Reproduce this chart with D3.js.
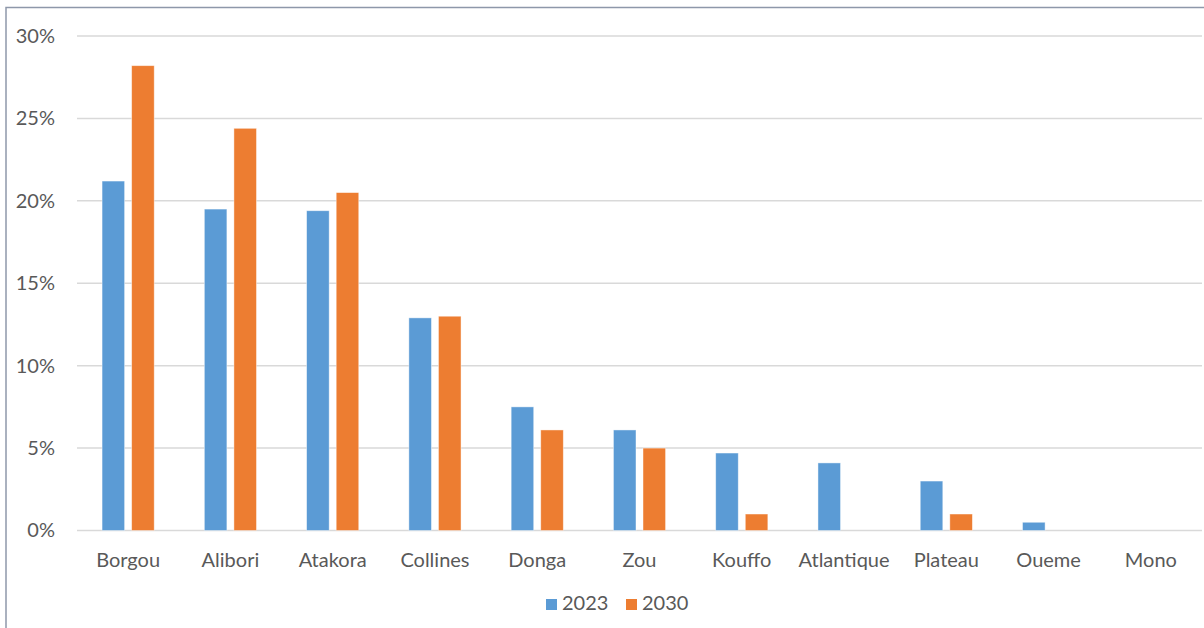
<!DOCTYPE html>
<html>
<head>
<meta charset="utf-8">
<script src="https://cdn.jsdelivr.net/npm/d3@7"></script>
<style>
  html, body { margin: 0; padding: 0; background: #fff; }
  svg { display: block; font-family: Lato, "Open Sans", sans-serif; }
</style>
</head>
<body>
<svg id="chart" width="1204" height="628"></svg>
<script>
// Regional shares, 2023 vs 2030 (in percent)
const regions = ["Borgou", "Alibori", "Atakora", "Collines", "Donga", "Zou", "Kouffo", "Atlantique", "Plateau", "Oueme", "Mono"];
const values2023 = [21.2, 19.5, 19.4, 12.9, 7.5, 6.1, 4.7, 4.1, 3.0, 0.5, 0];
const values2030 = [28.2, 24.4, 20.5, 13.0, 6.1, 5.0, 1.0, 0, 1.0, 0, 0];
const seriesNames = ["2023", "2030"];
const seriesColors = ["#5B9BD5", "#ED7D31"];
const yTicks = [0, 5, 10, 15, 20, 25, 30];

const svg = d3.select("#chart");
const W = 1204, H = 628;
const plot = { left: 77, right: 1202, top: 36, bottom: 530.5 };
const textColor = "#595959";
const fontSize = 20;

// Chart frame (top and left edges)
svg.append("path")
  .attr("d", `M6,${H} L6,7.5 L${W},7.5`)
  .attr("fill", "none")
  .attr("stroke", "#8E98AA")
  .attr("stroke-width", 1.5);

const x = d3.scaleBand()
  .domain(regions)
  .range([plot.left, plot.right])
  .paddingInner(0.49)
  .paddingOuter(0.245);

const xs = d3.scaleBand()
  .domain(seriesNames)
  .range([0, x.bandwidth()])
  .paddingInner(0.237);

const y = d3.scaleLinear()
  .domain([0, 30])
  .range([plot.bottom, plot.top]);

// Gridlines
svg.append("g")
  .selectAll("line")
  .data(yTicks)
  .join("line")
  .attr("x1", plot.left)
  .attr("x2", plot.right)
  .attr("y1", d => y(d))
  .attr("y2", d => y(d))
  .attr("stroke", "#D9D9D9")
  .attr("stroke-width", 1.5);

// Y axis labels
const yAxis = d3.axisLeft(y)
  .tickValues(yTicks)
  .tickFormat(d => d + "%")
  .tickSize(0)
  .tickPadding(0);
const gy = svg.append("g")
  .attr("transform", `translate(55,0)`)
  .call(yAxis);
gy.select(".domain").remove();
gy.selectAll("text")
  .attr("fill", textColor)
  .attr("font-size", fontSize)
  .attr("font-family", "Lato, 'Open Sans', sans-serif");

// Bars
const rows = regions.map((r, i) => ({ region: r, vals: [values2023[i], values2030[i]] }));
const groups = svg.append("g")
  .selectAll("g")
  .data(rows)
  .join("g")
  .attr("transform", d => `translate(${x(d.region)},0)`);

groups.selectAll("rect")
  .data(d => d.vals.map((v, k) => ({ key: seriesNames[k], value: v, color: seriesColors[k] })))
  .join("rect")
  .filter(d => d.value > 0)
  .attr("x", d => xs(d.key))
  .attr("width", xs.bandwidth())
  .attr("y", d => y(d.value))
  .attr("height", d => y(0) - y(d.value))
  .attr("fill", d => d.color)
  .attr("stroke", "rgba(255,255,255,0.55)")
  .attr("stroke-width", 0.8);

// X axis labels
const xAxis = d3.axisBottom(x).tickSize(0).tickPadding(0);
const gx = svg.append("g")
  .attr("transform", `translate(0,${plot.bottom})`)
  .call(xAxis);
gx.select(".domain").remove();
gx.selectAll("text")
  .attr("dy", null)
  .attr("y", 36)
  .attr("fill", textColor)
  .attr("font-size", fontSize)
  .attr("font-family", "Lato, 'Open Sans', sans-serif");

// Legend
const legendItems = [
  { name: seriesNames[0], color: seriesColors[0], sx: 546, tx: 562 },
  { name: seriesNames[1], color: seriesColors[1], sx: 626, tx: 642 }
];
const legend = svg.append("g");
legend.selectAll("rect")
  .data(legendItems)
  .join("rect")
  .attr("x", d => d.sx)
  .attr("y", 599)
  .attr("width", 11)
  .attr("height", 11)
  .attr("fill", d => d.color);
legend.selectAll("text")
  .data(legendItems)
  .join("text")
  .attr("x", d => d.tx)
  .attr("y", 610)
  .attr("fill", textColor)
  .attr("font-size", fontSize)
  .text(d => d.name);
</script>
</body>
</html>
